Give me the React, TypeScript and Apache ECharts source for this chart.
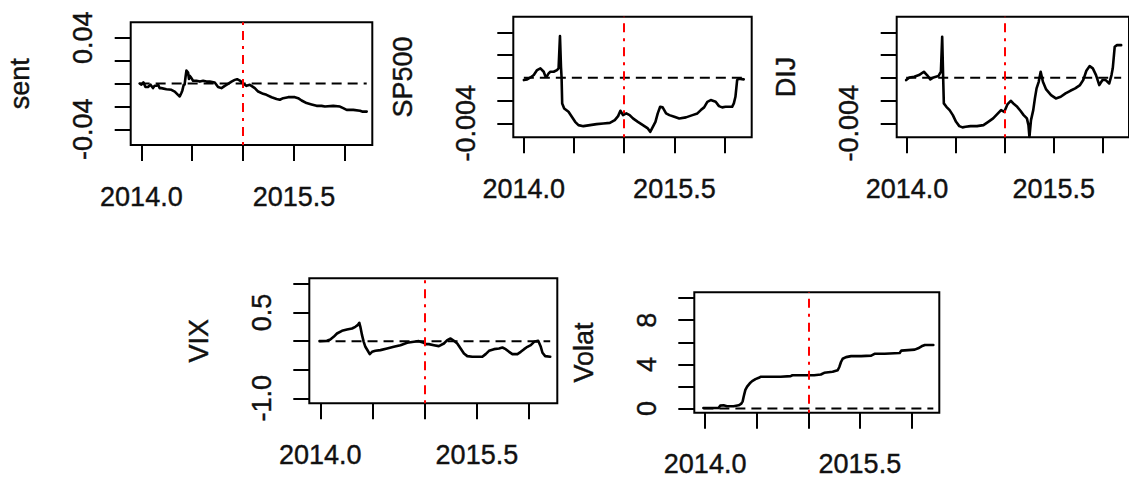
import React, { useEffect, useRef } from "react";
import * as echarts from "echarts";

// Time window shared by all five panels (fractional years).
const xRange: [number, number] = [2013.895, 2016.27];
const yearTicks = [2014, 2014.5, 2015, 2015.5, 2016];
const yearLabels = [2014, 2015.5];
const splitYear = 2015;

// sent
const sentPoints: [number, number][] = [
  [2013.983, 0.0], [2014.0, -0.001], [2014.02, 0.001], [2014.04, -0.003], [2014.065, -0.003],
  [2014.09, -0.001], [2014.114, -0.004], [2014.13, -0.002], [2014.148, -0.002], [2014.165, -0.001],
  [2014.18, -0.004], [2014.197, -0.004], [2014.246, -0.005], [2014.295, -0.0055], [2014.328, -0.007],
  [2014.36, -0.0099], [2014.377, -0.0113], [2014.394, -0.008], [2014.403, -0.006], [2014.416, -0.001],
  [2014.425, -0.001], [2014.433, 0.005], [2014.443, 0.0114], [2014.459, 0.0096], [2014.468, 0.004],
  [2014.475, 0.0067], [2014.492, 0.0047], [2014.508, 0.0024], [2014.541, 0.0024], [2014.575, 0.0017],
  [2014.607, 0.0024], [2014.64, 0.0017], [2014.672, 0.0017], [2014.721, 0.0009], [2014.754, -0.003],
  [2014.787, -0.004], [2014.82, -0.002], [2014.852, -0.0003], [2014.886, 0.0017], [2014.918, 0.0032],
  [2014.941, 0.0038], [2014.968, 0.0026], [2015.0, 0.0], [2015.033, -0.002], [2015.066, -0.0011],
  [2015.082, -0.002], [2015.115, -0.004], [2015.148, -0.007], [2015.197, -0.009], [2015.23, -0.0099],
  [2015.28, -0.012], [2015.329, -0.0135], [2015.361, -0.0142], [2015.394, -0.0128], [2015.443, -0.0119],
  [2015.509, -0.0119], [2015.541, -0.0128], [2015.575, -0.0148], [2015.624, -0.0171], [2015.673, -0.0183],
  [2015.722, -0.0195], [2015.772, -0.0195], [2015.804, -0.0201], [2015.886, -0.0195], [2015.952, -0.0201],
  [2015.984, -0.0215], [2016.018, -0.023], [2016.083, -0.023], [2016.149, -0.0238], [2016.17, -0.0245],
  [2016.215, -0.0245],
];

// SP500
const sp500Points: [number, number][] = [
  [2014.0, -0.0002], [2014.033, -0.00014], [2014.066, 0.00003], [2014.099, 0.00024], [2014.132, 0.00068],
  [2014.165, 0.00083], [2014.198, 0.00053], [2014.214, 0.00015], [2014.231, 0.00015], [2014.247, 0.00039],
  [2014.264, 0.00053], [2014.297, 0.00053], [2014.33, 0.00068], [2014.346, 0.00083], [2014.36, 0.00367],
  [2014.37, 0.00097], [2014.376, 0.00003], [2014.382, -0.00225], [2014.402, -0.00269], [2014.445, -0.00299],
  [2014.478, -0.00343], [2014.511, -0.00387], [2014.544, -0.00416], [2014.593, -0.00425], [2014.659, -0.00416],
  [2014.725, -0.00407], [2014.791, -0.00401], [2014.857, -0.00396], [2014.906, -0.00372], [2014.939, -0.00337],
  [2014.962, -0.0029], [2014.988, -0.00328], [2015.021, -0.00313], [2015.054, -0.00328], [2015.087, -0.00357],
  [2015.136, -0.00387], [2015.186, -0.00416], [2015.235, -0.00445], [2015.259, -0.00475], [2015.285, -0.00431],
  [2015.311, -0.00387], [2015.334, -0.00313], [2015.358, -0.00255], [2015.383, -0.0026], [2015.417, -0.00313],
  [2015.45, -0.00328], [2015.499, -0.00343], [2015.548, -0.00357], [2015.615, -0.00348], [2015.68, -0.00328],
  [2015.729, -0.00313], [2015.763, -0.00284], [2015.796, -0.0026], [2015.828, -0.00211], [2015.862, -0.00196],
  [2015.911, -0.00211], [2015.944, -0.00249], [2015.976, -0.0026], [2016.009, -0.00255], [2016.042, -0.00255],
  [2016.075, -0.00255], [2016.092, -0.00225], [2016.108, -0.00167], [2016.125, -0.0002], [2016.141, -0.00009],
  [2016.191, -0.00014],
];

// DIJ
const dijPoints: [number, number][] = [
  [2013.992, -0.0002], [2014.025, 0.00003], [2014.074, 0.00009], [2014.123, 0.00024], [2014.173, 0.00053],
  [2014.205, 0.00024], [2014.239, -0.00014], [2014.271, 0.00003], [2014.321, 0.00015], [2014.347, 0.00053],
  [2014.36, 0.0036], [2014.37, 0.00003], [2014.377, -0.00225], [2014.403, -0.00255], [2014.436, -0.00284],
  [2014.469, -0.00328], [2014.502, -0.00387], [2014.535, -0.00425], [2014.568, -0.00436], [2014.6, -0.00431],
  [2014.65, -0.00425], [2014.716, -0.00425], [2014.782, -0.00416], [2014.831, -0.00387], [2014.881, -0.00357],
  [2014.93, -0.00313], [2014.962, -0.00284], [2014.995, -0.00299], [2015.029, -0.00231], [2015.061, -0.00202],
  [2015.094, -0.00231], [2015.127, -0.00255], [2015.16, -0.0029], [2015.193, -0.00328], [2015.226, -0.00357],
  [2015.242, -0.00416], [2015.252, -0.00519], [2015.268, -0.00372], [2015.291, -0.00284], [2015.308, -0.00181],
  [2015.325, -0.00093], [2015.347, -0.00035], [2015.367, 0.00053], [2015.39, -0.00035], [2015.423, -0.00102],
  [2015.473, -0.00152], [2015.522, -0.00181], [2015.572, -0.00167], [2015.621, -0.00137], [2015.67, -0.00114],
  [2015.72, -0.00093], [2015.769, -0.00064], [2015.802, -0.0002], [2015.834, 0.00062], [2015.868, 0.00103],
  [2015.9, 0.00083], [2015.933, 0.00024], [2015.966, -0.00064], [2015.999, -0.0002], [2016.032, -0.0002],
  [2016.068, -0.0005], [2016.091, 0.00024], [2016.104, 0.00083], [2016.124, 0.00273], [2016.147, 0.00287],
  [2016.19, 0.00287],
];

// VIX
const vixPoints: [number, number][] = [
  [2013.993, 0.0], [2014.064, 0.006], [2014.096, 0.029], [2014.128, 0.076], [2014.16, 0.134],
  [2014.208, 0.181], [2014.256, 0.204], [2014.304, 0.222], [2014.336, 0.251], [2014.358, 0.28],
  [2014.374, 0.321], [2014.384, 0.251], [2014.4, 0.105], [2014.416, -0.012], [2014.432, -0.099],
  [2014.448, -0.146], [2014.474, -0.227], [2014.496, -0.187], [2014.528, -0.169], [2014.576, -0.157],
  [2014.64, -0.128], [2014.704, -0.099], [2014.768, -0.07], [2014.832, -0.029], [2014.896, -0.012],
  [2014.944, 0.0], [2014.992, -0.029], [2015.008, -0.052], [2015.04, -0.052], [2015.088, -0.07],
  [2015.136, -0.087], [2015.184, -0.041], [2015.216, 0.017], [2015.248, 0.047], [2015.28, 0.006],
  [2015.312, -0.041], [2015.344, -0.128], [2015.376, -0.216], [2015.408, -0.262], [2015.456, -0.274],
  [2015.504, -0.274], [2015.552, -0.274], [2015.584, -0.227], [2015.616, -0.169], [2015.664, -0.14],
  [2015.712, -0.128], [2015.744, -0.111], [2015.776, -0.14], [2015.808, -0.187], [2015.84, -0.227],
  [2015.888, -0.227], [2015.92, -0.187], [2015.952, -0.14], [2015.984, -0.099], [2016.016, -0.07],
  [2016.048, -0.012], [2016.087, 0.006], [2016.112, -0.099], [2016.128, -0.203], [2016.154, -0.262],
  [2016.202, -0.274],
];

// Volat
const volatPoints: [number, number][] = [
  [2013.983, 0.05], [2014.13, 0.05], [2014.146, 0.27], [2014.179, 0.3], [2014.211, 0.21],
  [2014.276, 0.21], [2014.325, 0.3], [2014.348, 0.42], [2014.364, 0.66], [2014.374, 1.1],
  [2014.39, 1.69], [2014.407, 1.99], [2014.433, 2.29], [2014.456, 2.49], [2014.488, 2.67],
  [2014.52, 2.79], [2014.537, 2.88], [2014.602, 2.88], [2014.732, 2.88], [2014.829, 2.94],
  [2014.846, 3.02], [2014.927, 3.02], [2015.057, 3.02], [2015.122, 3.09], [2015.154, 3.24],
  [2015.236, 3.33], [2015.252, 3.38], [2015.285, 3.47], [2015.301, 3.77], [2015.317, 4.22],
  [2015.333, 4.51], [2015.366, 4.66], [2015.415, 4.75], [2015.512, 4.75], [2015.61, 4.8],
  [2015.642, 4.96], [2015.74, 4.96], [2015.886, 5.04], [2015.902, 5.25], [2016.032, 5.34],
  [2016.065, 5.46], [2016.098, 5.64], [2016.13, 5.76], [2016.212, 5.76],
];

// Y-axis ticks and the tick labels that are printed
const sentTicks = [-0.04, -0.02, 0, 0.02, 0.04];
const sentLabels = [-0.04, 0.04];
const indexTicks = [-0.004, -0.002, 0, 0.002, 0.004];
const indexLabels = [-0.004];
const vixTicks = [-1, -0.5, 0, 0.5, 1];
const vixLabels = [-1, 0.5];
const volatTicks = [0, 2, 4, 6, 8, 10];
const volatLabels = [0, 4, 8];

type Panel = {
  name: string;
  points: [number, number][];
  box: { left: number; top: number; width: number; height: number };
  yRange: [number, number];
  ticks: number[];
  labels: number[];
  digits: number;
  ref: number;
};

const panels: Panel[] = [
  { name: "sent", points: sentPoints, box: { left: 130.7, top: 22.3, width: 241.6, height: 122.7 },
    yRange: [-0.0537, 0.0535], ticks: sentTicks, labels: sentLabels, digits: 2, ref: 0 },
  { name: "SP500", points: sp500Points, box: { left: 513.3, top: 16.7, width: 238.4, height: 120.6 },
    yRange: [-0.00523, 0.00537], ticks: indexTicks, labels: indexLabels, digits: 3, ref: 0 },
  { name: "DIJ", points: dijPoints, box: { left: 896.7, top: 16.7, width: 238.4, height: 120.6 },
    yRange: [-0.00523, 0.00537], ticks: indexTicks, labels: indexLabels, digits: 3, ref: 0 },
  { name: "VIX", points: vixPoints, box: { left: 309.3, top: 278.3, width: 248, height: 125 },
    yRange: [-1.0875, 1.0997], ticks: vixTicks, labels: vixLabels, digits: 1, ref: 0 },
  { name: "Volat", points: volatPoints, box: { left: 694.3, top: 292.3, width: 245, height: 123 },
    yRange: [-0.38, 10.53], ticks: volatTicks, labels: volatLabels, digits: 0, ref: 0 },
];

const FONT = "'Liberation Sans', Arial, Helvetica, sans-serif";
const FONT_SIZE = 27;
const textInk = {
  color: "#111",
  fontFamily: FONT,
  fontSize: FONT_SIZE,
  textBorderColor: "#111",
  textBorderWidth: 0.4,
};

function buildOption(): echarts.EChartsOption {
  const grid: any[] = [];
  const xAxis: any[] = [];
  const yAxis: any[] = [];
  const series: any[] = [];

  panels.forEach((p, i) => {
    grid.push({
      ...p.box,
      show: true,
      borderColor: "#000",
      borderWidth: 2,
      backgroundColor: "transparent",
      containLabel: false,
    });
    xAxis.push({
      type: "value",
      gridIndex: i,
      min: xRange[0],
      max: xRange[1],
      axisLine: { show: false, onZero: false },
      splitLine: { show: false },
      axisTick: {
        show: true,
        length: 16,
        lineStyle: { color: "#000", width: 2 },
        customValues: yearTicks,
      },
      axisLabel: {
        show: true,
        ...textInk,
        margin: 38,
        customValues: yearLabels,
        formatter: (v: number) => v.toFixed(1),
      },
    });
    yAxis.push({
      type: "value",
      gridIndex: i,
      min: p.yRange[0],
      max: p.yRange[1],
      name: p.name,
      nameLocation: "middle",
      nameRotate: 90,
      nameGap: 97,
      nameTextStyle: { ...textInk },
      axisLine: { show: false, onZero: false },
      splitLine: { show: false },
      axisTick: {
        show: true,
        length: 16,
        lineStyle: { color: "#000", width: 2 },
        customValues: p.ticks,
      },
      axisLabel: {
        show: true,
        rotate: 90,
        ...textInk,
        margin: 34,
        customValues: p.labels,
        formatter: (v: number) => v.toFixed(p.digits),
      },
    });
    const first = p.points[0][0];
    const last = p.points[p.points.length - 1][0];
    // reference level drawn across the span of the series
    series.push({
      type: "line",
      xAxisIndex: i,
      yAxisIndex: i,
      data: [
        [first, p.ref],
        [last, p.ref],
      ],
      symbol: "none",
      silent: true,
      z: 3,
      lineStyle: { color: "#000", width: 2, type: [10, 6] },
    });
    series.push({
      type: "line",
      xAxisIndex: i,
      yAxisIndex: i,
      data: p.points,
      symbol: "none",
      silent: true,
      z: 2,
      lineStyle: { color: "#000", width: 2.6, join: "round", cap: "round" },
      markLine: {
        silent: true,
        symbol: ["none", "none"],
        label: { show: false },
        lineStyle: { color: "#ff0000", width: 2, type: [3, 6, 9, 6] },
        data: [{ xAxis: splitYear }],
        z: 5,
      },
    });
  });

  return {
    animation: false,
    backgroundColor: "#ffffff",
    textStyle: { fontFamily: FONT },
    grid,
    xAxis,
    yAxis,
    series,
  };
}

export default function App() {
  const ref = useRef<HTMLDivElement>(null);

  useEffect(() => {
    if (!ref.current) return;
    const chart = echarts.init(ref.current, undefined, { renderer: "svg" });
    chart.setOption(buildOption());
    return () => chart.dispose();
  }, []);

  return (
    <div
      ref={ref}
      style={{ position: "fixed", left: 0, top: 0, width: 1129, height: 478, background: "#fff" }}
    />
  );
}
